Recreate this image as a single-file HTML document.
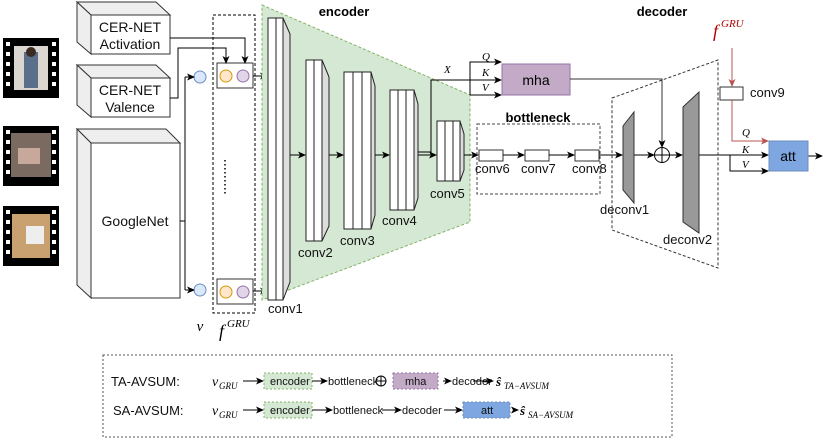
<!DOCTYPE html>
<html><head><meta charset="utf-8"><style>body{margin:0;background:#fff}svg{display:block;font-family:"Liberation Sans",sans-serif}</style></head><body>
<svg width="830" height="442" viewBox="0 0 830 442" xmlns="http://www.w3.org/2000/svg">
<defs><marker id="a" markerWidth="8" markerHeight="8" refX="7" refY="4" orient="auto" markerUnits="userSpaceOnUse"><path d="M0,0.5 L8,4 L0,7.5 L2,4z" fill="#000"/></marker>
<marker id="r" markerWidth="8" markerHeight="8" refX="7" refY="4" orient="auto" markerUnits="userSpaceOnUse"><path d="M0,0.5 L8,4 L0,7.5 L2,4z" fill="#b85450"/></marker></defs>
<g>
<rect x="3" y="38" width="56" height="60" fill="#000"/><rect x="14" y="46" width="34" height="44" fill="#dcd6d0"/><rect x="24" y="52" width="14" height="36" fill="#5a6f8a"/><circle cx="31" cy="52" r="5" fill="#3a2a20"/>
<rect x="3" y="126" width="56" height="60" fill="#000"/><rect x="11" y="133" width="40" height="44" fill="#7a6a60"/><rect x="18" y="148" width="22" height="16" fill="#c8a89a"/>
<rect x="3" y="206" width="56" height="60" fill="#000"/><rect x="12" y="214" width="38" height="44" fill="#c9a070"/><rect x="26" y="226" width="18" height="18" fill="#eee"/>
<g fill="#fff"><rect x="6" y="42" width="4" height="4"/><rect x="6" y="52" width="4" height="4"/><rect x="6" y="62" width="4" height="4"/><rect x="6" y="72" width="4" height="4"/><rect x="6" y="82" width="4" height="4"/><rect x="52" y="42" width="4" height="4"/><rect x="52" y="52" width="4" height="4"/><rect x="52" y="62" width="4" height="4"/><rect x="52" y="72" width="4" height="4"/><rect x="52" y="82" width="4" height="4"/>
<rect x="6" y="130" width="4" height="4"/><rect x="6" y="140" width="4" height="4"/><rect x="6" y="150" width="4" height="4"/><rect x="6" y="160" width="4" height="4"/><rect x="6" y="170" width="4" height="4"/><rect x="52" y="130" width="4" height="4"/><rect x="52" y="140" width="4" height="4"/><rect x="52" y="150" width="4" height="4"/><rect x="52" y="160" width="4" height="4"/><rect x="52" y="170" width="4" height="4"/>
<rect x="6" y="210" width="4" height="4"/><rect x="6" y="220" width="4" height="4"/><rect x="6" y="230" width="4" height="4"/><rect x="6" y="240" width="4" height="4"/><rect x="6" y="250" width="4" height="4"/><rect x="52" y="210" width="4" height="4"/><rect x="52" y="220" width="4" height="4"/><rect x="52" y="230" width="4" height="4"/><rect x="52" y="240" width="4" height="4"/><rect x="52" y="250" width="4" height="4"/></g>
</g>
<g stroke="#333" stroke-width="1" fill="#eee">
<path d="M91,15 L77,2 L156,2 L170,15 Z"/><path d="M77,2 L91,15 L91,54 L77,42 Z"/><rect x="91" y="15" width="79" height="39" fill="#fff"/>
<path d="M91,78 L77,65 L156,65 L170,78 Z"/><path d="M77,65 L91,78 L91,117 L77,105 Z"/><rect x="91" y="78" width="79" height="39" fill="#fff"/>
<path d="M91,143 L77,129 L166,129 L180,143 Z"/><path d="M77,129 L91,143 L91,298 L77,285 Z"/><rect x="91" y="143" width="89" height="155" fill="#fff"/>
</g>
<g font-size="14" text-anchor="middle" fill="#111"><text x="130" y="32">CER-NET</text><text x="130" y="49">Activation</text><text x="130" y="95">CER-NET</text><text x="130" y="112">Valence</text><text x="135" y="226">GoogleNet</text></g>
<rect x="213" y="15" width="42" height="298" fill="none" stroke="#000" stroke-dasharray="3,2"/>
<rect x="217" y="63" width="36" height="25" fill="#fff" stroke="#333"/><rect x="217" y="279" width="36" height="25" fill="#fff" stroke="#333"/>
<g stroke-width="1"><circle cx="226" cy="76" r="6" fill="#ffe6cc" stroke="#d79b00"/><circle cx="243" cy="76" r="6" fill="#e1d5e7" stroke="#9673a6"/><circle cx="226" cy="292" r="6" fill="#ffe6cc" stroke="#d79b00"/><circle cx="243" cy="292" r="6" fill="#e1d5e7" stroke="#9673a6"/><circle cx="200" cy="77" r="6" fill="#dae8fc" stroke="#6c8ebf"/><circle cx="200" cy="290" r="6" fill="#dae8fc" stroke="#6c8ebf"/></g>
<g stroke="#000" stroke-dasharray="1.5,2.5" stroke-width="1.5"><line x1="225" y1="160" x2="225" y2="194"/></g>
<g fill="none" stroke="#000" stroke-width="1">
<path d="M170,38 H245 V63" marker-end="url(#a)"/><path d="M170,98 H178 V48 H226 V63" marker-end="url(#a)"/>
<path d="M180,221 H185"/><path d="M185,77 V290"/><path d="M185,77 H194" marker-end="url(#a)"/><path d="M185,290 H194" marker-end="url(#a)"/>
<path d="M253,76 H267" marker-end="url(#a)"/><path d="M253,291 H267" marker-end="url(#a)"/>
</g>
<text x="200" y="331" font-size="15" font-style="italic" font-family="Liberation Serif" text-anchor="middle">v</text>
<text x="219" y="337" font-size="18" font-style="italic" font-family="Liberation Serif">f</text><text x="227" y="327" font-size="11" font-style="italic" font-family="Liberation Serif">GRU</text>
<polygon points="262,5 470,95 470,222 262,300" fill="#d5e8d4" stroke="#82b366" stroke-dasharray="3,2"/>
<text x="344" y="16" font-size="13" font-weight="bold" text-anchor="middle">encoder</text>
<g stroke="#222" stroke-width="1">
<polygon points="283,18 290,34 290,282 283,300" fill="#ddd"/><rect x="268" y="18" width="15" height="282" fill="#fff"/><line x1="276" y1="18" x2="276" y2="300"/>
<polygon points="322,60 329,77 329,226 322,241" fill="#ddd"/><rect x="306" y="60" width="16" height="181" fill="#fff"/><line x1="314" y1="60" x2="314" y2="241"/>
<polygon points="371,72 375,86 375,215 371,229" fill="#ddd"/><rect x="344" y="72" width="27" height="157" fill="#fff"/><line x1="353" y1="72" x2="353" y2="229"/><line x1="362" y1="72" x2="362" y2="229"/>
<polygon points="414,90 418,104 418,198 414,210" fill="#ddd"/><rect x="390" y="90" width="24" height="120" fill="#fff"/><line x1="398" y1="90" x2="398" y2="210"/><line x1="406" y1="90" x2="406" y2="210"/>
<polygon points="460,121 464,134 464,170 460,181" fill="#ddd"/><rect x="437" y="121" width="23" height="60" fill="#fff"/><line x1="445" y1="121" x2="445" y2="181"/><line x1="453" y1="121" x2="453" y2="181"/>
</g>
<g font-size="13" fill="#111"><text x="268" y="313">conv1</text><text x="298" y="257">conv2</text><text x="340" y="245">conv3</text><text x="382" y="225">conv4</text><text x="430" y="198">conv5</text></g>
<g fill="none" stroke="#000"><path d="M290,155 H305" marker-end="url(#a)"/><path d="M329,155 H343" marker-end="url(#a)"/><path d="M375,155 H389" marker-end="url(#a)"/><path d="M418,155 H436" marker-end="url(#a)"/><path d="M418,152 H431 V80 H501" marker-end="url(#a)"/><path d="M470,95 V62 H501" marker-end="url(#a)"/><path d="M470,95 H501" marker-end="url(#a)"/><path d="M464,155 H478" marker-end="url(#a)"/></g>
<g font-family="Liberation Serif" font-style="italic" font-size="11"><text x="444" y="73">X</text><text x="482" y="60">Q</text><text x="482" y="76">K</text><text x="482" y="91">V</text></g>
<rect x="502" y="64" width="68" height="31" fill="#c3abc7" stroke="#9673a6"/><text x="536" y="85" font-size="14" text-anchor="middle">mha</text>
<path d="M570,79 H662 V147" fill="none" stroke="#333" marker-end="url(#a)"/>
<rect x="477" y="124" width="123" height="70" fill="none" stroke="#444" stroke-dasharray="3,2"/>
<text x="538" y="122" font-size="13" font-weight="bold" text-anchor="middle">bottleneck</text>
<g fill="#fff" stroke="#333"><rect x="479" y="150" width="24" height="11"/><rect x="525" y="150" width="24" height="11"/><rect x="575" y="150" width="24" height="11"/></g>
<g fill="none" stroke="#000"><path d="M503,155 H524" marker-end="url(#a)"/><path d="M549,155 H574" marker-end="url(#a)"/><path d="M599,155 H622" marker-end="url(#a)"/><path d="M634,155 H654" marker-end="url(#a)"/><path d="M670,155 H682" marker-end="url(#a)"/><path d="M699,155 H768" marker-end="url(#a)"/><path d="M730,155 V171 H768" marker-end="url(#a)"/><path d="M808,156 H822" marker-end="url(#a)"/></g>
<g font-size="13" fill="#111"><text x="475" y="173">conv6</text><text x="521" y="173">conv7</text><text x="572" y="173">conv8</text></g>
<polygon points="612,98 718,60 718,268 612,230" fill="none" stroke="#333" stroke-dasharray="3,2"/>
<text x="662" y="16" font-size="13" font-weight="bold" text-anchor="middle">decoder</text>
<polygon points="623,126 634,112 634,203 623,190" fill="#999" stroke="#333"/>
<polygon points="683,107 699,92 699,233 683,222" fill="#999" stroke="#333"/>
<circle cx="662" cy="155" r="7.5" fill="#fff" stroke="#000"/><path d="M654.5,155 H669.5 M662,147.5 V162.5" stroke="#000"/>
<g font-size="13" fill="#111"><text x="600" y="214">deconv1</text><text x="663" y="244">deconv2</text><text x="750" y="97">conv9</text></g>
<text x="713" y="37" font-size="18" font-style="italic" font-family="Liberation Serif" fill="#b20000">f</text><text x="721" y="27" font-size="11" font-style="italic" font-family="Liberation Serif" fill="#b20000">GRU</text>
<path d="M732,48 V86" stroke="#b85450" fill="none" marker-end="url(#r)"/>
<rect x="720" y="87" width="23" height="13" fill="#fff" stroke="#333"/>
<path d="M732,100 V141 H768" stroke="#b85450" fill="none" marker-end="url(#r)"/>
<g font-family="Liberation Serif" font-style="italic" font-size="11"><text x="742" y="136">Q</text><text x="742" y="153">K</text><text x="742" y="168">V</text></g>
<rect x="769" y="141" width="39" height="30" fill="#7ea6e0" stroke="#6c8ebf"/><text x="788" y="161" font-size="14" text-anchor="middle">att</text>
<rect x="103" y="355" width="569" height="82" fill="none" stroke="#555" stroke-dasharray="2,2"/>
<g font-size="13" fill="#111"><text x="111" y="386">TA-AVSUM:</text><text x="113" y="415">SA-AVSUM:</text></g>
<g font-family="Liberation Serif" font-style="italic"><text x="212" y="386" font-size="14">v</text><text x="219" y="389" font-size="9">GRU</text><text x="212" y="415" font-size="14">v</text><text x="219" y="418" font-size="9">GRU</text>
<text x="496" y="386" font-size="13" font-weight="bold">ŝ</text><text x="504" y="389" font-size="9">TA−AVSUM</text><text x="520" y="415" font-size="13" font-weight="bold">ŝ</text><text x="528" y="418" font-size="9">SA−AVSUM</text></g>
<g stroke-dasharray="2,2"><rect x="264" y="373" width="48" height="16" fill="#d5e8d4" stroke="#82b366"/><rect x="264" y="402" width="48" height="16" fill="#d5e8d4" stroke="#82b366"/><rect x="393" y="373" width="45" height="16" fill="#c3abc7" stroke="#9673a6"/><rect x="463" y="402" width="47" height="16" fill="#7ea6e0" stroke="#6c8ebf"/></g>
<g font-size="11" fill="#111"><text x="270" y="385">encoder</text><text x="270" y="414">encoder</text><text x="328" y="385">bottleneck</text><text x="405" y="385">mha</text><text x="452" y="385">decoder</text><text x="333" y="414">bottleneck</text><text x="402" y="414">decoder</text><text x="481" y="414">att</text></g>
<circle cx="381" cy="381" r="5" fill="none" stroke="#000"/><path d="M376,381 H386 M381,376 V386" stroke="#000"/>
<g fill="none" stroke="#000"><path d="M243,381 H263" marker-end="url(#a)"/><path d="M312,381 H327" marker-end="url(#a)"/><path d="M443,381 H451" marker-end="url(#a)"/><path d="M473,381 H493" marker-end="url(#a)"/>
<path d="M243,410 H263" marker-end="url(#a)"/><path d="M312,410 H332" marker-end="url(#a)"/><path d="M382,410 H401" marker-end="url(#a)"/><path d="M444,410 H462" marker-end="url(#a)"/><path d="M513,410 H518" marker-end="url(#a)"/></g>
</svg>
</body></html>
